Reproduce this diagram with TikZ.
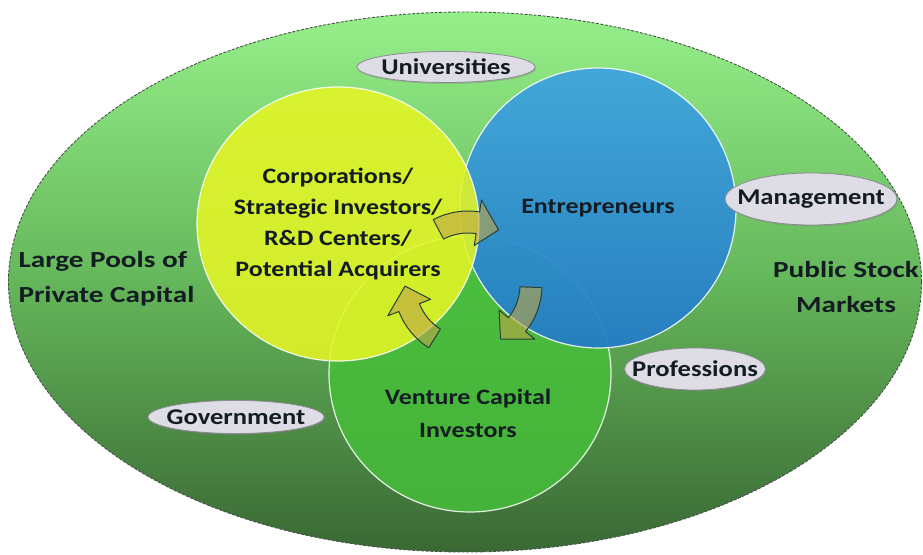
\documentclass[tikz,border=0pt]{standalone}
\usepackage{fontspec}
\setmainfont{Carlito}
\newfontfamily\wideface[FakeStretch=1.18]{Carlito}
\newfontfamily\widerface[FakeStretch=1.27]{Carlito}
\usetikzlibrary{shapes.geometric,shadows}
\definecolor{fieldtop}{RGB}{150,240,138}
\definecolor{fieldmid}{RGB}{100,182,90}
\definecolor{fieldbot}{RGB}{58,104,52}
\definecolor{fieldrim}{RGB}{70,82,72}
\definecolor{vcgreen}{RGB}{70,190,58}
\definecolor{entrtop}{RGB}{62,164,222}
\definecolor{entrbot}{RGB}{36,124,198}
\definecolor{corpyellow}{RGB}{228,245,38}
\definecolor{ink}{RGB}{20,28,35}
\definecolor{tagfill}{RGB}{222,220,228}
\definecolor{tagrim}{RGB}{140,140,146}
\definecolor{turnfill}{RGB}{190,165,70}
\definecolor{turnrim}{RGB}{40,66,56}
\tikzstyle{pool} = [ellipse, inner ysep=0pt, inner xsep=-40pt, outer sep=0pt, draw=white, line width=1.2pt, draw opacity=.85, fill opacity=.85, text opacity=1]
\tikzstyle{lbl}  = [align=center, text=ink, font=\wideface\bfseries\fontsize{22}{31}\selectfont]
\tikzstyle{side} = [text=ink, font=\widerface\bfseries\fontsize{23}{35}\selectfont]
\tikzstyle{tag}  = [ellipse, draw=tagrim, fill=tagfill, line width=.8pt, inner ysep=0pt, inner xsep=-13pt, text=ink, font=\wideface\bfseries\fontsize{22.5}{27}\selectfont, drop shadow={shadow xshift=1pt, shadow yshift=-1.5pt, opacity=.35}]
\tikzstyle{turn} = [draw=turnrim, fill=turnfill, fill opacity=.6, line width=1pt, line join=round]

\begin{document}
\begin{tikzpicture}[x=1pt, y=1pt]
    \useasboundingbox (0,0) rectangle (923,554);

    \node[ellipse, minimum width=913pt, minimum height=540pt, draw=fieldrim, line width=.9pt, dash pattern=on 3pt off 1.5pt, top color=fieldtop, bottom color=fieldbot, middle color=fieldmid] (field) at (465,272) {};

    \node[pool, fill=vcgreen, minimum width=282pt, minimum height=276pt] (vc) at (470,180) {};
    \node[pool, lbl, top color=entrtop, bottom color=entrbot, fill opacity=.94, minimum width=276pt, minimum height=280pt] (entr) at (598,346) {Entrepreneurs};
    \node[pool, lbl, fill=corpyellow, fill opacity=.88, minimum width=282pt, minimum height=274pt] (corp) at (338,330) {Corporations/\\Strategic Investors/\\R\&D Centers/\\Potential Acquirers};

    \coordinate (cyc) at (468,269);
    \foreach \t in {118,-2,-122}
        \draw[turn, shift={(cyc)}] (\t:74) arc[start angle=\t, end angle=\t-37, radius=74] -- ({\t-37}:86) -- ({\t-57}:63) -- ({\t-37}:40) -- ({\t-37}:52) arc[start angle=\t-37, end angle=\t, radius=52] -- cycle;

    \node[lbl] (vclbl) at (468,141) {Venture Capital\\[2pt]Investors};
    \node[side, align=left, anchor=west] (priv) at (15,275) {Large Pools of\\Private Capital};
    \node[side, align=center]            (pub)  at (846,267) {Public Stock\\Markets};

    \node[tag, minimum width=178pt, minimum height=31pt] (univ) at (446,487) {Universities};
    \node[tag, minimum width=168pt, minimum height=52pt] (mgmt) at (811,355) {Management};
    \node[tag, minimum width=141pt, minimum height=42pt] (prof) at (695,185) {Professions};
    \node[tag, minimum width=176pt, minimum height=33pt] (gov)  at (236,137) {Government};

\end{tikzpicture}
\end{document}
